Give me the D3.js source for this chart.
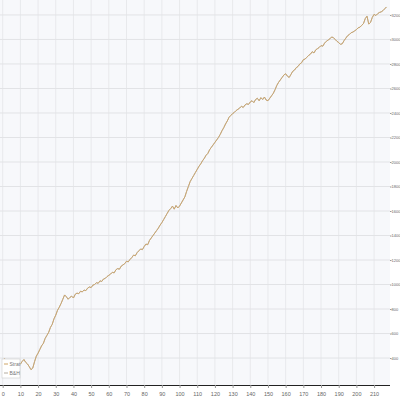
<!DOCTYPE html>
<html>
<head>
<meta charset="utf-8">
<script src="https://cdn.jsdelivr.net/npm/d3@7"></script>
<style>
  body { margin: 0; background: #fff; }
  #chart svg { display: block; font-family: "Liberation Sans", "DejaVu Sans", sans-serif; }
</style>
</head>
<body>
<div id="chart"></div>
<script>
// equity curve, one value per bar
var strategy = [
  380, 395, 370, 390, 360, 375, 350, 365, 340, 355,
  350, 372, 388, 365, 352, 330, 305, 318, 370, 415,
  440, 470, 500, 520, 560, 585, 610, 650, 675, 720,
  750, 790, 815, 845, 880, 915, 900, 880, 895, 905,
  890, 920, 930, 925, 945, 940, 955, 950, 970, 980,
  975, 995, 1000, 1015, 1010, 1030, 1025, 1045, 1050, 1065,
  1075, 1085, 1100, 1095, 1120, 1130, 1125, 1150, 1160, 1170,
  1190, 1185, 1205, 1220, 1240, 1235, 1260, 1275, 1290, 1285,
  1310, 1330, 1325, 1360, 1380, 1400, 1420, 1440, 1460, 1485,
  1505, 1530, 1555, 1580, 1605, 1620, 1640, 1615, 1645, 1625,
  1640, 1665, 1690, 1715, 1760, 1800, 1840, 1865, 1890, 1915,
  1940, 1965, 1985, 2010, 2030, 2055, 2070, 2100, 2120, 2140,
  2160, 2180, 2200, 2225, 2255, 2280, 2310, 2335, 2365, 2380,
  2395, 2405, 2420, 2430, 2440, 2455, 2445, 2465, 2475, 2470,
  2490, 2500, 2485, 2510, 2520, 2500, 2525, 2510, 2530, 2505,
  2500, 2520, 2540, 2560, 2590, 2625, 2650, 2670, 2690, 2710,
  2720, 2700, 2690, 2715, 2740, 2750, 2770, 2780, 2800, 2810,
  2835, 2840, 2855, 2870, 2880, 2900, 2890, 2915, 2925, 2935,
  2950, 2945, 2970, 2985, 2995, 3005, 3020, 3015, 3000, 2985,
  2975, 2960, 2965, 2990, 3010, 3030, 3040, 3055, 3060, 3070,
  3080, 3095, 3100, 3115, 3130, 3170, 3190, 3125, 3140, 3180,
  3205, 3195, 3210, 3220, 3225, 3235, 3250, 3265
];
// buy & hold sits right under the strategy line
var buyHold = strategy.slice();

var xTicks = d3.range(0, 220, 10);
var yTicks = d3.range(400, 3400, 200);
var seriesNames = ["Strat", "B&H"];
var seriesColors = ["#cfa566", "#b4aca0"];

var width = 400, height = 400;
var plot = { left: 0, right: 390, top: 0, bottom: 385 };

var svg = d3.select("#chart").append("svg")
    .attr("width", width)
    .attr("height", height);

svg.append("rect")
    .attr("x", plot.left).attr("y", plot.top)
    .attr("width", plot.right - plot.left)
    .attr("height", plot.bottom - plot.top)
    .attr("fill", "#f7f8fb");

var x = d3.scaleLinear().domain([0, 219]).range([2.7, plot.right]);
var y = d3.scaleLinear().domain([180, 3322]).range([plot.bottom, plot.top]);

// grid
svg.append("g").selectAll("line").data(xTicks).enter().append("line")
    .attr("x1", function (d) { return x(d); })
    .attr("x2", function (d) { return x(d); })
    .attr("y1", plot.top).attr("y2", plot.bottom)
    .attr("stroke", "#e8e9ec").attr("stroke-width", 1);
svg.append("g").selectAll("line").data(yTicks).enter().append("line")
    .attr("x1", plot.left).attr("x2", plot.right)
    .attr("y1", function (d) { return y(d); })
    .attr("y2", function (d) { return y(d); })
    .attr("stroke", "#e2e3e6").attr("stroke-width", 1);

// lines
var line = d3.line()
    .x(function (d, i) { return x(i); })
    .y(function (d) { return y(d); });

svg.append("path").datum(buyHold)
    .attr("fill", "none").attr("stroke", seriesColors[1])
    .attr("stroke-width", 1).attr("d", line);
svg.append("path").datum(strategy)
    .attr("fill", "none").attr("stroke", seriesColors[0])
    .attr("stroke-width", 0.9).attr("opacity", 0.9).attr("d", line);

// x axis
var xAxis = svg.append("g")
    .attr("transform", "translate(0," + plot.bottom + ")")
    .call(d3.axisBottom(x).tickValues(xTicks).tickSize(3).tickSizeOuter(0));
xAxis.select(".domain").attr("stroke", "#222").attr("d", "M0,0.5H" + plot.right);
xAxis.selectAll(".tick line").attr("stroke", "#999");
xAxis.selectAll("text").attr("font-size", 5.5).attr("fill", "#666").attr("dy", "0.9em");

// y axis on the right
var yAxis = svg.append("g")
    .attr("transform", "translate(" + plot.right + ",0)")
    .call(d3.axisRight(y).tickValues(yTicks).tickSize(1.5).tickFormat(d3.format("d")));
yAxis.select(".domain").remove();
yAxis.selectAll(".tick line").attr("stroke", "#999");
yAxis.selectAll("text").attr("font-size", 4).attr("fill", "#666").attr("x", 1.6);

// legend
var legend = svg.append("g").attr("transform", "translate(2,359)");
legend.append("rect")
    .attr("width", 18).attr("height", 19)
    .attr("fill", "#fff").attr("stroke", "#ccc").attr("stroke-width", 0.6);
seriesNames.forEach(function (name, i) {
    var g = legend.append("g").attr("transform", "translate(0," + (5 + i * 9) + ")");
    g.append("line").attr("x1", 2).attr("x2", 6).attr("y1", 0).attr("y2", 0)
        .attr("stroke", seriesColors[i]).attr("stroke-width", 1);
    g.append("text").attr("x", 7.5).attr("y", 2)
        .attr("font-size", 5).attr("fill", "#777").text(name);
});
</script>
</body>
</html>
